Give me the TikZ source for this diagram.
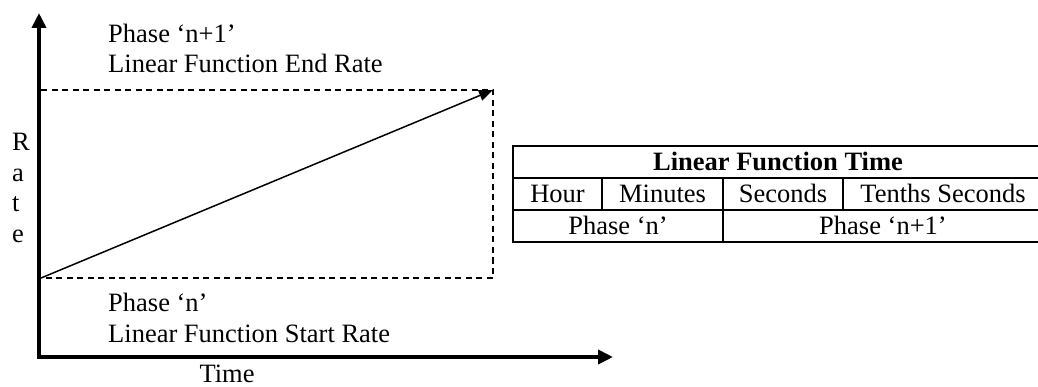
\documentclass[tikz,border=0pt]{standalone}
\usepackage{fontspec}
\setmainfont{Liberation Serif}
\usetikzlibrary{arrows.meta}
\tikzset{
  lbl/.style={inner sep=0pt, anchor=base west, font=\fontsize{26.5}{30}\selectfont},
  cell/.style={inner sep=0pt, anchor=base, font=\fontsize{26.5}{30}\selectfont},
  axis/.style={line width=4pt, line join=miter},
  guide/.style={line width=1.3pt, dash pattern=on 6pt off 4.5pt},
  grid/.style={line width=1.3pt},
}
\begin{document}
\begin{tikzpicture}[x=1pt,y=-1pt]
\useasboundingbox (0,0) rectangle (1038,387);
% axes
\coordinate (ytip) at (39,13);
\coordinate (origin) at (39,357);
\coordinate (xtip) at (613,357);
\draw[axis,{Triangle[length=15pt,width=14pt]}-{Triangle[length=15pt,width=14pt]}] (ytip) -- (origin) -- (xtip);
% dashed box and rate line
\coordinate (start) at (41,278);
\coordinate (endtop) at (493,90);
\coordinate (tl) at (41,90);
\coordinate (br) at (493,278);
\draw[guide] (tl) -- (endtop) -- (br) -- (start);
\draw[line width=1.5pt,-{Triangle[length=14pt,width=11pt]}] (start) -- (endtop);
% labels
\node[lbl] (p1a) at (108,43) {Phase ‘n+1’};
\node[lbl] (p1b) at (108,73) {Linear Function End Rate};
\node[lbl] (p0a) at (108,311) {Phase ‘n’};
\node[lbl] (p0b) at (108,342) {Linear Function Start Rate};
\node[cell] (time) at (227,382) {Time};
\node[lbl] (r1) at (12,151) {R};
\node[lbl] (r2) at (12,182) {a};
\node[lbl] (r3) at (12,212) {t};
\node[lbl] (r4) at (12,243) {e};
% table
\draw[grid] (513,146) rectangle (1043,242);
\draw[grid] (513,178) -- (1043,178);
\draw[grid] (513,210) -- (1043,210);
\draw[grid] (602,178) -- (602,210);
\draw[grid] (723,178) -- (723,242);
\draw[grid] (843,178) -- (843,210);
\node[cell,font=\fontsize{26.5}{30}\selectfont\bfseries] (title) at (778,171) {Linear Function Time};
\node[cell] (hour) at (557.5,203) {Hour};
\node[cell] (min) at (662.5,203) {Minutes};
\node[cell] (sec) at (783,203) {Seconds};
\node[cell] (tenth) at (943,203) {Tenths Seconds};
\node[cell] (phn) at (618,235) {Phase ‘n’};
\node[cell] (phn1) at (883,235) {Phase ‘n+1’};
\end{tikzpicture}
\end{document}
